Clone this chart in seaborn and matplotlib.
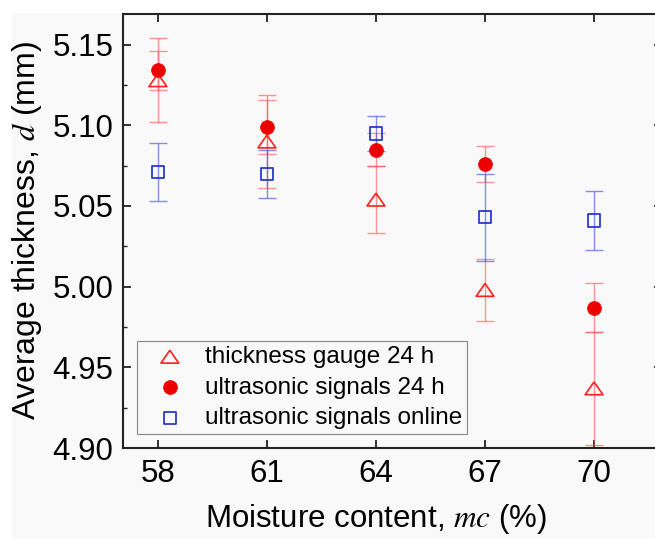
import numpy as np
import pandas as pd
import matplotlib.pyplot as plt
import seaborn as sns
from matplotlib.ticker import MultipleLocator
from matplotlib.patches import Rectangle

# moisture content (%)
mc = [58, 61, 64, 67, 70]

# average thickness (mm) and error bars
gauge_24h = [5.128, 5.090, 5.054, 4.998, 4.937]
gauge_24h_err = [0.026, 0.029, 0.021, 0.019, 0.035]
us_24h = [5.134, 5.099, 5.085, 5.076, 4.987]
us_24h_err = [0.012, 0.017, 0.010, 0.011, 0.015]
us_online = [5.071, 5.070, 5.095, 5.043, 5.041]
us_online_err = [0.018, 0.015, 0.011, 0.027, 0.018]

labels = ['thickness gauge 24 h', 'ultrasonic signals 24 h', 'ultrasonic signals online']
x_ticks = [58, 61, 64, 67, 70]
y_ticks = [4.90, 4.95, 5.00, 5.05, 5.10, 5.15]

sns.set_style('ticks')
plt.rcParams['font.family'] = ['Liberation Sans', 'DejaVu Sans']
plt.rcParams['mathtext.fontset'] = 'stix'
for k in ['text.color', 'axes.labelcolor', 'xtick.color', 'ytick.color']:
    plt.rcParams[k] = 'black'

bg = '#f9f9f9'
fig = plt.figure(figsize=(6.55, 5.39), dpi=100, facecolor='white')
# grey panel with a thin white border on the left and top
fig.patches.append(Rectangle((12 / 655, 0), 1, (539 - 13) / 539,
                             transform=fig.transFigure, facecolor=bg,
                             edgecolor='none', zorder=-10))
ax = fig.add_axes([123 / 655, 91 / 539, 539 / 655, 434 / 539])
ax.set_facecolor(bg)

df = pd.DataFrame({'mc': mc, 'gauge': gauge_24h, 'us24': us_24h, 'online': us_online})

# error bars first (under markers)
ax.errorbar(mc, gauge_24h, yerr=gauge_24h_err, fmt='none', ecolor='#ff5050',
            alpha=0.6, elinewidth=1.0, capsize=6.5, capthick=1.0, zorder=2)
ax.errorbar(mc, us_24h, yerr=us_24h_err, fmt='none', ecolor='#ff5050',
            alpha=0.6, elinewidth=1.0, capsize=6.5, capthick=1.0, zorder=2)
ax.errorbar(mc, us_online, yerr=us_online_err, fmt='none', ecolor='#5060ee',
            alpha=0.7, elinewidth=1.0, capsize=6.5, capthick=1.0, zorder=2)

tri = [(0, 0.72), (-1, -0.72), (1, -0.72), (0, 0.72)]
sns.scatterplot(data=df, x='mc', y='gauge', ax=ax, marker=tri, s=165,
                facecolor='none', edgecolor='#ff2020', linewidth=1.2,
                label=labels[0], zorder=3)
sns.scatterplot(data=df, x='mc', y='us24', ax=ax, marker='o', s=100,
                color='#ee0000', edgecolor='#ee0000', linewidth=0.5,
                label=labels[1], zorder=4)
sns.scatterplot(data=df, x='mc', y='online', ax=ax, marker='s', s=80,
                facecolor='none', edgecolor='#2a3acc', linewidth=1.3,
                label=labels[2], zorder=5)

ax.set_xlim(57.04, 71.87)
ax.set_ylim(4.90, 5.169)
ax.set_xticks(x_ticks)
ax.set_yticks(y_ticks)
ax.set_yticklabels([f'{v:.2f}' for v in y_ticks])
ax.yaxis.set_minor_locator(MultipleLocator(0.025))

for s in ax.spines.values():
    s.set_linewidth(1.5)
    s.set_color('#222222')
ax.spines['right'].set_visible(False)

ax.tick_params(axis='both', which='major', direction='in', length=6, width=1.3,
               labelsize=22.5, top=True, right=True, color='#222222')
ax.tick_params(axis='y', which='minor', direction='in', length=3, width=1.0,
               right=True, color='#222222')
ax.tick_params(axis='x', pad=8)
ax.tick_params(axis='y', pad=7)

ax.set_xlabel('Moisture content, $mc$ (%)', fontsize=22.5)
ax.set_ylabel('Average thickness, $d$ (mm)', fontsize=23)
ax.xaxis.set_label_coords(0.474 * 534 / 539, -0.125)
ax.yaxis.set_label_coords(-0.148 * 534 / 539, 0.5)

leg = ax.legend(loc='lower left', bbox_to_anchor=(14 / 539, 14 / 434), borderaxespad=0,
                fontsize=17.5, frameon=True, fancybox=False, framealpha=1,
                facecolor=bg, edgecolor='#888888', handletextpad=0.3,
                labelspacing=0.35, borderpad=0.2, handlelength=2.3)
leg.get_frame().set_linewidth(0.8)

fig.savefig('out.png', dpi=100, facecolor='white')
